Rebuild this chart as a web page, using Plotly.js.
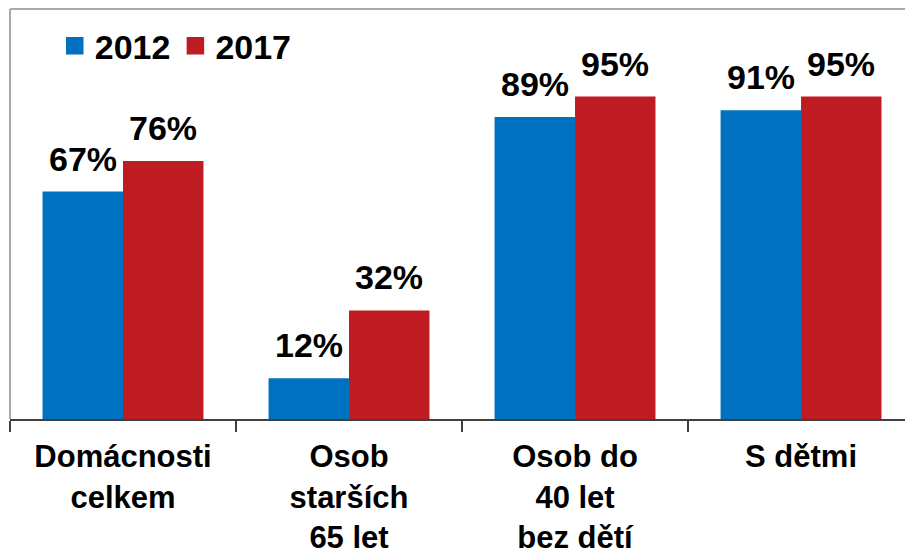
<!DOCTYPE html>
<html>
<head>
<meta charset="utf-8">
<script src="https://cdn.plot.ly/plotly-3.0.1.min.js"></script>
<style>html,body{margin:0;padding:0;background:#fff;}#chart{width:905px;height:553px;}</style>
</head>
<body>
<div id="chart"></div>
<script>
var categories = ["Domácnosti<br>celkem", "Osob<br>starších<br>65 let", "Osob do<br>40 let<br>bez dětí", "S dětmi"];
var series2012 = [67, 12, 89, 91];
var series2017 = [76, 32, 95, 95];
var seriesNames = ["2012", "2017"];
var colors = ["#0070C0", "#BE1B23"];

var FONT = "Liberation Sans, Arial, sans-serif";

var traces = [
  {type: "bar", name: seriesNames[0], x: categories, y: series2012, marker: {color: colors[0]}, hoverinfo: "skip", showlegend: false},
  {type: "bar", name: seriesNames[1], x: categories, y: series2017, marker: {color: colors[1]}, hoverinfo: "skip", showlegend: false}
];
// legend entries (square swatches)
seriesNames.forEach(function (n, i) {
  traces.push({type: "scatter", mode: "markers", name: n, x: [null], y: [null],
    marker: {symbol: "square", size: 16, color: colors[i], line: {width: 1.5, color: colors[i]}},
    showlegend: true, hoverinfo: "skip"});
});

var annotations = [];
[series2012, series2017].forEach(function (vals, si) {
  vals.forEach(function (v, i) {
    annotations.push({
      x: categories[i], y: v, xref: "x", yref: "y",
      text: "<b>" + v + "%</b>", showarrow: false,
      xanchor: "center", yanchor: "bottom",
      xshift: si === 0 ? -40 : 40, yshift: 12,
      font: {family: FONT, size: 34, color: "#000"}
    });
  });
});

var layout = {
  width: 905, height: 553,
  margin: {l: 10, r: 0, t: 9, b: 134},
  paper_bgcolor: "#fff", plot_bgcolor: "#fff",
  barmode: "group", bargap: 0.288, bargroupgap: 0,
  font: {family: FONT, size: 32, color: "#000"},
  xaxis: {
    type: "category", range: [-0.5, 3.46],
    showline: true, linecolor: "#404040", linewidth: 2,
    ticks: "outside", tickson: "boundaries", ticklen: 11, tickwidth: 1.5, tickcolor: "#404040",
    tickfont: {family: FONT, size: 31, color: "#000", weight: "bold"},
    ticklabelstandoff: 9,
    showgrid: false, zeroline: false, fixedrange: true
  },
  yaxis: {
    range: [0, 120.8], showticklabels: false, showgrid: false, zeroline: false,
    showline: false, ticks: "", fixedrange: true
  },
  showlegend: true,
  legend: {
    orientation: "h", x: 0.05, y: 0.98, xanchor: "left", yanchor: "top",
    font: {family: FONT, size: 34, color: "#000", weight: "bold"},
    bgcolor: "rgba(0,0,0,0)", traceorder: "normal", itemsizing: "trace"
  },
  annotations: annotations,
  shapes: [
    {type: "line", xref: "paper", yref: "paper", x0: 0, x1: 0, y0: 0, y1: 1, line: {color: "#AAAAAA", width: 2}},
    {type: "line", xref: "paper", yref: "paper", x0: 0, x1: 1.01, y0: 1, y1: 1, line: {color: "#AAAAAA", width: 2}}
  ]
};

Plotly.newPlot("chart", traces, layout, {displayModeBar: false, staticPlot: true});
</script>
</body>
</html>
